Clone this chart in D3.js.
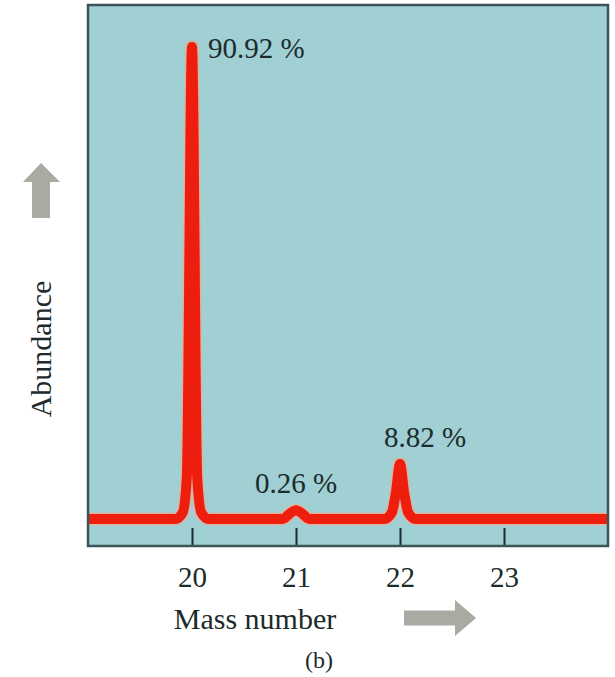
<!DOCTYPE html>
<html>
<head>
<meta charset="utf-8">
<script src="https://cdn.jsdelivr.net/npm/d3@7"></script>
<style>
  body { margin: 0; background: #fff; }
  text { font-family: "Liberation Serif", "DejaVu Serif", serif; fill: #1d2b2c; }
</style>
</head>
<body>
<svg id="chart" width="615" height="677"></svg>
<script>
// peaks of the mass spectrum (neon isotopes)
const massNumbers = [20, 21, 22];
const abundanceLabels = ["90.92 %", "0.26 %", "8.82 %"];
const xTicks = [20, 21, 22, 23];

// detector trace as drawn, [mass number, abundance]
const trace = [
  [19.0, 0], [19.84, 0], [19.91, 1.2], [19.95, 8], [20.0, 90.92], [20.05, 8], [20.09, 1.2], [20.16, 0],
  [20.87, 0], [20.95, 1.2], [21.0, 1.7], [21.05, 1.2], [21.13, 0],
  [21.85, 0], [21.92, 1.2], [21.96, 5], [22.0, 10.6], [22.04, 5], [22.08, 1.2], [22.15, 0],
  [24.0, 0]
];

let svg = d3.select("#chart"),
    pLeft = 88, pTop = 5, pWidth = 520, pHeight = 541,
    xScale = d3.scaleLinear([19, 24], [pLeft, pLeft + pWidth]),
    yScale = d3.scaleLinear([-5.2, 99], [pTop + pHeight, pTop]);

svg.append("rect")
    .attr("x", pLeft).attr("y", pTop)
    .attr("width", pWidth).attr("height", pHeight)
    .attr("fill", "#a0cfd4");

let line = d3.line()
    .x(d => xScale(d[0]))
    .y(d => yScale(d[1]))
    .curve(d3.curveMonotoneX);

// soft halo round the red trace
svg.append("path")
    .datum(trace)
    .attr("d", line)
    .attr("fill", "none")
    .attr("stroke", "#f4a98c")
    .attr("stroke-width", 13)
    .attr("stroke-linejoin", "round")
    .attr("opacity", 0.7);

svg.append("path")
    .datum(trace)
    .attr("d", line)
    .attr("fill", "none")
    .attr("stroke", "#ee1e0e")
    .attr("stroke-width", 10)
    .attr("stroke-linejoin", "round");

let xAxis = d3.axisBottom(xScale)
    .tickValues(xTicks)
    .tickFormat(d3.format("d"))
    .tickSizeInner(-18)
    .tickSizeOuter(0);

let gx = svg.append("g")
    .attr("transform", "translate(0," + (pTop + pHeight) + ")")
    .call(xAxis);
gx.select(".domain").remove();
gx.selectAll("line").attr("stroke", "#1d2b2c").attr("stroke-width", 2);
gx.selectAll("text")
    .attr("y", 41).attr("dy", 0)
    .attr("font-size", 29)
    .attr("font-family", "Liberation Serif, serif")
    .attr("fill", "#1d2b2c");

// frame
svg.append("rect")
    .attr("x", pLeft).attr("y", pTop)
    .attr("width", pWidth).attr("height", pHeight)
    .attr("fill", "none")
    .attr("stroke", "#3b5457")
    .attr("stroke-width", 2.5);

// peak labels
let labelPos = [[208, 58, "start"], [296, 493, "middle"], [425, 447, "middle"]];
svg.selectAll(".peakLabel")
    .data(massNumbers)
    .enter()
    .append("text")
    .attr("class", "peakLabel")
    .attr("x", (d, i) => labelPos[i][0])
    .attr("y", (d, i) => labelPos[i][1])
    .attr("text-anchor", (d, i) => labelPos[i][2])
    .attr("font-size", 29)
    .text((d, i) => abundanceLabels[i]);

// axis titles
svg.append("text")
    .attr("x", 255).attr("y", 629)
    .attr("text-anchor", "middle")
    .attr("font-size", 30)
    .text("Mass number");

svg.append("text")
    .attr("transform", "translate(51,349) rotate(-90)")
    .attr("text-anchor", "middle")
    .attr("font-size", 30)
    .text("Abundance");

svg.append("text")
    .attr("x", 319).attr("y", 668)
    .attr("text-anchor", "middle")
    .attr("font-size", 24)
    .text("(b)");

// gray direction arrows
svg.append("path")
    .attr("d", "M404,610.5 H455 V600 L476,618 L455,636 V625.5 H404 Z")
    .attr("fill", "#a9aba3");

svg.append("path")
    .attr("d", "M32,218 V182 H23 L41,163 L60,182 H50 V218 Z")
    .attr("fill", "#a9aba3");
</script>
</body>
</html>
